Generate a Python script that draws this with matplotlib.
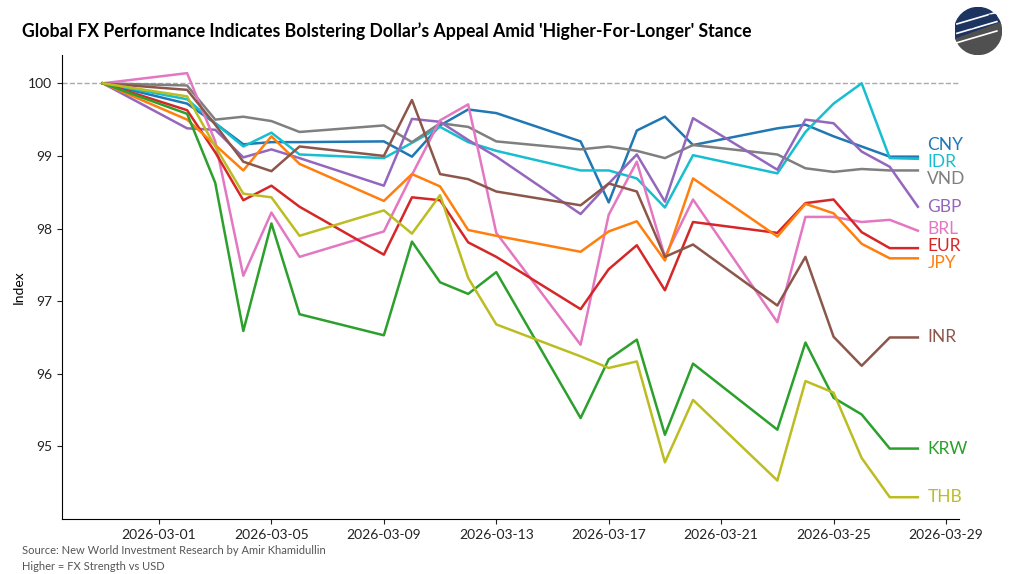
import matplotlib.pyplot as plt
import matplotlib.dates as mdates
import numpy as np
import pandas as pd
from matplotlib.patches import Wedge

plt.rcParams['font.family'] = ['Lato', 'DejaVu Sans']

dates = pd.to_datetime([
    "2026-02-27", "2026-03-02", "2026-03-03", "2026-03-04", "2026-03-05", "2026-03-06",
    "2026-03-09", "2026-03-10", "2026-03-11", "2026-03-12", "2026-03-13",
    "2026-03-16", "2026-03-17", "2026-03-18", "2026-03-19", "2026-03-20",
    "2026-03-23", "2026-03-24", "2026-03-25", "2026-03-26", "2026-03-27", "2026-03-28",
])

cny = [100, 99.72, 99.45, 99.16, 99.19, 99.19, 99.20, 98.99, 99.42, 99.64, 99.59,
       99.20, 98.36, 99.35, 99.54, 99.15, 99.38, 99.43, 99.27, 99.13, 98.99, 98.99]
idr = [100, 99.78, 99.45, 99.13, 99.32, 99.02, 98.97, 99.18, 99.40, 99.19, 99.07,
       98.80, 98.80, 98.69, 98.29, 99.01, 98.76, 99.33, 99.72, 100.0, 98.97, 98.96]
vnd = [100, 99.97, 99.50, 99.54, 99.48, 99.33, 99.42, 99.19, 99.45, 99.40, 99.20,
       99.09, 99.13, 99.07, 98.97, 99.15, 99.02, 98.83, 98.78, 98.82, 98.80, 98.80]
gbp = [100, 99.38, 99.36, 98.98, 99.09, 98.97, 98.59, 99.51, 99.47, 99.22, 98.99,
       98.20, 98.62, 99.02, 98.37, 99.52, 98.81, 99.50, 99.45, 99.06, 98.85, 98.30]
brl = [100, 100.14, 99.20, 97.35, 98.22, 97.61, 97.96, 98.74, 99.49, 99.71, 97.94,
       96.40, 98.19, 98.92, 97.61, 98.40, 96.71, 98.16, 98.16, 98.09, 98.12, 97.97]
eur = [100, 99.63, 99.05, 98.39, 98.59, 98.30, 97.64, 98.43, 98.39, 97.81, 97.61,
       96.89, 97.44, 97.77, 97.15, 98.09, 97.94, 98.35, 98.40, 97.95, 97.73, 97.73]
jpy = [100, 99.50, 99.15, 98.80, 99.27, 98.89, 98.38, 98.75, 98.58, 97.98, 97.90,
       97.68, 97.96, 98.10, 97.56, 98.69, 97.89, 98.34, 98.21, 97.79, 97.59, 97.59]
inr = [100, 99.91, 99.43, 98.92, 98.79, 99.13, 99.00, 99.77, 98.75, 98.68, 98.51,
       98.32, 98.62, 98.51, 97.61, 97.78, 96.94, 97.61, 96.51, 96.11, 96.50, 96.50]
krw = [100, 99.58, 98.63, 96.59, 98.07, 96.82, 96.53, 97.82, 97.26, 97.10, 97.40,
       95.39, 96.20, 96.47, 95.16, 96.14, 95.23, 96.43, 95.67, 95.44, 94.97, 94.97]
thb = [100, 99.82, 99.13, 98.48, 98.43, 97.90, 98.25, 97.93, 98.46, 97.32, 96.68,
       96.24, 96.08, 96.17, 94.78, 95.64, 94.53, 95.90, 95.74, 94.84, 94.30, 94.30]

names = ["CNY", "IDR", "VND", "GBP", "BRL", "EUR", "JPY", "INR", "KRW", "THB"]
series = [cny, idr, vnd, gbp, brl, eur, jpy, inr, krw, thb]
colors = ["tab:blue", "tab:cyan", "tab:gray", "tab:purple", "tab:pink",
          "tab:red", "tab:orange", "tab:brown", "tab:green", "tab:olive"]

fig = plt.figure(figsize=(10.22, 5.74), dpi=100)
ax = fig.add_axes([0.0607, 0.0958, 0.8773, 0.8084])

for vals, c in zip(series, colors):
    ax.plot(dates, vals, color=c, lw=1.8)

ax.axhline(100, color="#aaaaaa", ls="--", lw=1.0, zorder=0)

# end labels, pushed apart so they don't overlap
last = np.array([v[-1] for v in series], dtype=float)
pos = last.copy()
gap = 0.235
for _ in range(200):
    order = np.argsort(-pos)
    for a, b in zip(order[:-1], order[1:]):
        d = pos[a] - pos[b]
        if d < gap:
            shift = (gap - d) / 2
            pos[a] += shift
            pos[b] -= shift
for n, c, y in zip(names, colors, pos):
    ax.text(dates[-1] + pd.Timedelta(hours=8), y, n, color=c, fontsize=12.5,
            va="center", ha="left", clip_on=False)

ax.set_ylim(94.0, 100.39)
ax.set_yticks([95, 96, 97, 98, 99, 100])
ax.xaxis.set_major_locator(mdates.DayLocator(bymonthday=[1, 5, 9, 13, 17, 21, 25, 29]))
ax.xaxis.set_major_formatter(mdates.DateFormatter("%Y-%m-%d"))
ax.tick_params(labelsize=10, colors="#222222")
ax.spines["top"].set_visible(False)
ax.spines["right"].set_visible(False)
ax.set_ylabel("Index", fontsize=10)
ax.yaxis.set_label_coords(-0.042, 0.5)

fig.text(0.0215, 0.945, "Global FX Performance Indicates Bolstering Dollar\u2019s Appeal Amid 'Higher-For-Longer' Stance",
         fontsize=12.7, fontweight="bold", ha="left", va="center")
fig.text(0.0215, 0.041, "Source: New World Investment Research by Amir Khamidullin",
         fontsize=8, color="#555555", ha="left", va="center")
fig.text(0.0215, 0.013, "Higher = FX Strength vs USD",
         fontsize=8, color="#555555", ha="left", va="center")

# rough logo
lax = fig.add_axes([0.934, 0.905, 0.046, 0.082])
lax.set_xlim(-1, 1)
lax.set_ylim(-1, 1)
lax.set_aspect("equal")
lax.axis("off")
lax.add_patch(Wedge((0, 0), 1, 20, 200, color="#1d3461"))
lax.add_patch(Wedge((0, 0), 1, 200, 380, color="#505050"))
for k in (-0.3, 0.1, 0.5):
    lax.plot([-0.9, 0.8], [k - 0.2, k + 0.3], color="white", lw=1.2)
lax.annotate("", xy=(0.95, 0.75), xytext=(-0.4, 0.1),
             arrowprops=dict(arrowstyle="-|>", color="#1d3461", lw=1.5))

fig.savefig("out.png", dpi=100)
